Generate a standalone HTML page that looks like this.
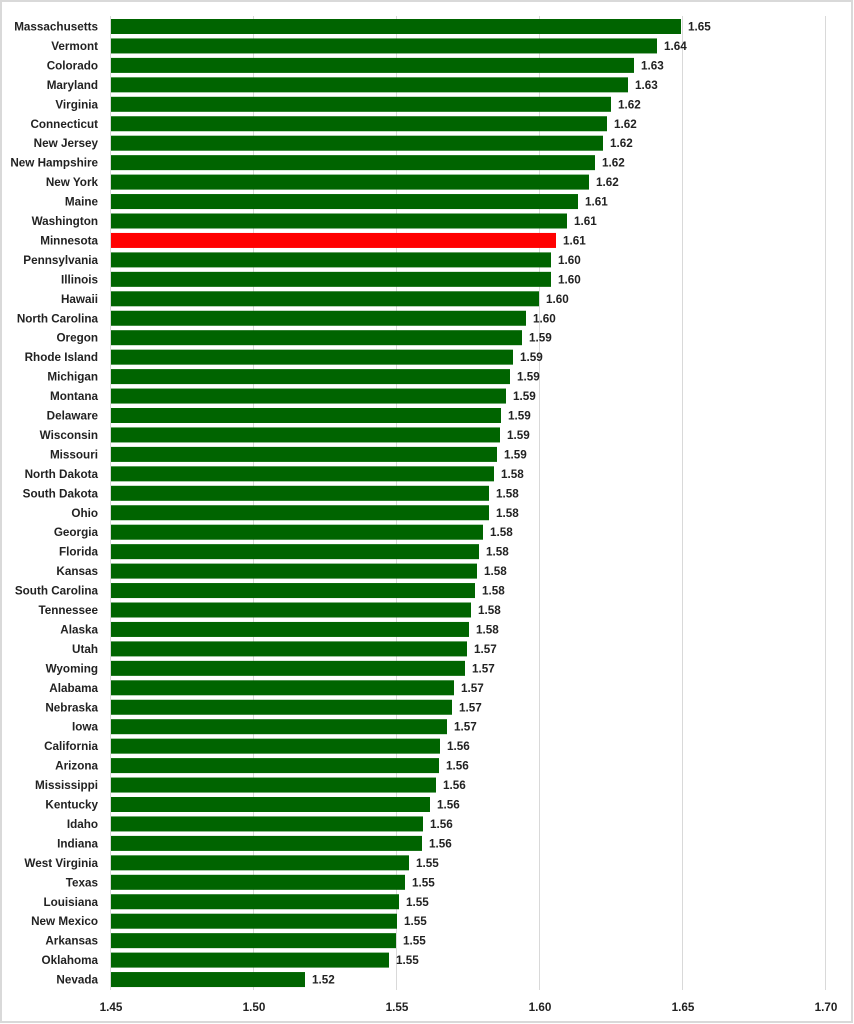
<!DOCTYPE html>
<html><head><meta charset="utf-8"><style>
body{margin:0;background:#fff}
svg{display:block;font-family:"Liberation Sans",Arial,sans-serif;font-weight:bold;font-size:11.7px}
</style></head><body>
<svg width="854" height="1024" viewBox="0 0 854 1024">
<rect x="1" y="1" width="851" height="1021" fill="#fff" stroke="#d9d9d9" stroke-width="2"/>
<g stroke="#d9d9d9" stroke-width="1">
<line x1="110.5" y1="16" x2="110.5" y2="990"/>
<line x1="253.5" y1="16" x2="253.5" y2="990"/>
<line x1="396.5" y1="16" x2="396.5" y2="990"/>
<line x1="539.5" y1="16" x2="539.5" y2="990"/>
<line x1="682.5" y1="16" x2="682.5" y2="990"/>
<line x1="825.5" y1="16" x2="825.5" y2="990"/>
</g>
<g id="bars"></g>
<g text-anchor="middle" fill="#222">
<text x="111" y="1011">1.45</text><text x="254" y="1011">1.50</text><text x="397" y="1011">1.55</text>
<text x="540" y="1011">1.60</text><text x="683" y="1011">1.65</text><text x="826" y="1011">1.70</text>
</g>
</svg>
<script>
var d=[["Massachusetts",681,"1.65"],["Vermont",657,"1.64"],["Colorado",634,"1.63"],["Maryland",628,"1.63"],["Virginia",611,"1.62"],["Connecticut",607,"1.62"],["New Jersey",603,"1.62"],["New Hampshire",595,"1.62"],["New York",589,"1.62"],["Maine",578,"1.61"],["Washington",567,"1.61"],["Minnesota",556,"1.61"],["Pennsylvania",551,"1.60"],["Illinois",551,"1.60"],["Hawaii",539,"1.60"],["North Carolina",526,"1.60"],["Oregon",522,"1.59"],["Rhode Island",513,"1.59"],["Michigan",510,"1.59"],["Montana",506,"1.59"],["Delaware",501,"1.59"],["Wisconsin",500,"1.59"],["Missouri",497,"1.59"],["North Dakota",494,"1.58"],["South Dakota",489,"1.58"],["Ohio",489,"1.58"],["Georgia",483,"1.58"],["Florida",479,"1.58"],["Kansas",477,"1.58"],["South Carolina",475,"1.58"],["Tennessee",471,"1.58"],["Alaska",469,"1.58"],["Utah",467,"1.57"],["Wyoming",465,"1.57"],["Alabama",454,"1.57"],["Nebraska",452,"1.57"],["Iowa",447,"1.57"],["California",440,"1.56"],["Arizona",439,"1.56"],["Mississippi",436,"1.56"],["Kentucky",430,"1.56"],["Idaho",423,"1.56"],["Indiana",422,"1.56"],["West Virginia",409,"1.55"],["Texas",405,"1.55"],["Louisiana",399,"1.55"],["New Mexico",397,"1.55"],["Arkansas",396,"1.55"],["Oklahoma",389,"1.55"],["Nevada",305,"1.52"]];
var s="";
d.forEach(function(r,i){var cy=26.5+i*19.45;
s+='<rect x="111" y="'+(cy-7.5)+'" width="'+(r[1]-111)+'" height="15" fill="'+(r[0]=="Minnesota"?"#ff0000":"#006400")+'"/>';
s+='<text x="98" y="'+(cy+4)+'" text-anchor="end" fill="#222">'+r[0]+'</text>';
s+='<text x="'+(r[1]+7)+'" y="'+(cy+4)+'" fill="#222">'+r[2]+'</text>';});
document.getElementById("bars").innerHTML=s;
</script>
</body></html>
